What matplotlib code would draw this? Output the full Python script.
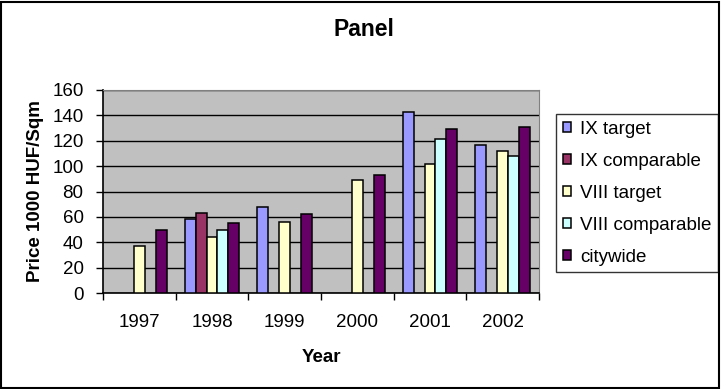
import matplotlib
matplotlib.use('Agg')
import matplotlib.pyplot as plt
import numpy as np
from matplotlib.patches import Rectangle

plt.rcParams['font.family'] = ['Liberation Sans', 'DejaVu Sans']

years = ['1997', '1998', '1999', '2000', '2001', '2002']
series = ['IX target', 'IX comparable', 'VIII target', 'VIII comparable', 'citywide']
ix_target = [None, 58, 68, None, 143, 117]
ix_comparable = [None, 63, None, None, None, None]
viii_target = [37, 44, 56, 89, 102, 112]
viii_comparable = [None, 50, None, None, 121, 108]
citywide = [50, 55, 62, 93, 129, 131]
colors = ['#9999FF', '#993366', '#FFFFCC', '#CCFFFF', '#660066']

data = [ix_target, ix_comparable, viii_target, viii_comparable, citywide]

fig = plt.figure(figsize=(7.21, 3.89), dpi=100)
ax = fig.add_axes([103 / 721, 1 - 293 / 389, 436 / 721, 203 / 389])
ax.set_facecolor('#C0C0C0')

x = np.arange(len(years))
width = 0.15
for j, (name, vals, col) in enumerate(zip(series, data, colors)):
    xs = [xi + (j - 2) * width for xi, v in zip(x, vals) if v is not None]
    hs = [v for v in vals if v is not None]
    ax.bar(xs, hs, width, color=col, edgecolor='black', linewidth=1.1,
           label=name, zorder=3)

ax.set_xlim(-0.5, 5.5)
ax.set_ylim(0, 160)
ax.set_yticks(np.arange(0, 161, 20))
ax.yaxis.grid(True, color='black', linewidth=1, zorder=1)
ax.set_axisbelow(True)

ax.set_xticks(x)
ax.set_xticklabels(years, fontsize=13.5)
ax.set_xticks(np.arange(-0.5, 6, 1), minor=True)
ax.tick_params(axis='x', which='major', length=0, pad=15)
ax.tick_params(axis='x', which='minor', length=5, direction='out', width=1)
ax.tick_params(axis='y', length=5, direction='out', width=1, pad=9, labelsize=13.5)

for s in ['top', 'right']:
    ax.spines[s].set_color('#808080')
for s in ['left', 'bottom']:
    ax.spines[s].set_color('black')
    ax.spines[s].set_linewidth(1.2)

ax.set_xlabel('Year', fontsize=13.5, fontweight='bold', va='center')
ax.xaxis.set_label_coords(0.5, (293 - 357) / 203)
ax.set_ylabel('Price 1000 HUF/Sqm', fontsize=13.5, fontweight='bold', va='center')
ax.yaxis.set_label_coords((35 - 103) / 436, 0.5)

fig.text(364 / 721, 1 - 30 / 389, 'Panel', fontsize=16.5, fontweight='bold',
         ha='center', va='center')

leg = ax.legend(loc='upper left', bbox_to_anchor=(556 / 721, 1 - 114 / 389),
                bbox_transform=fig.transFigure, fontsize=13.5, frameon=True,
                fancybox=False, edgecolor='black', handlelength=0.45,
                handleheight=0.45, handletextpad=0.5, labelspacing=0.8,
                borderpad=0.35, borderaxespad=0)
leg.get_frame().set_linewidth(1)

fig.patches.append(Rectangle((0.002, 0.003), 0.995, 0.993, transform=fig.transFigure,
                             fill=False, edgecolor='black', linewidth=1.5))

fig.savefig('out.png', dpi=100)
